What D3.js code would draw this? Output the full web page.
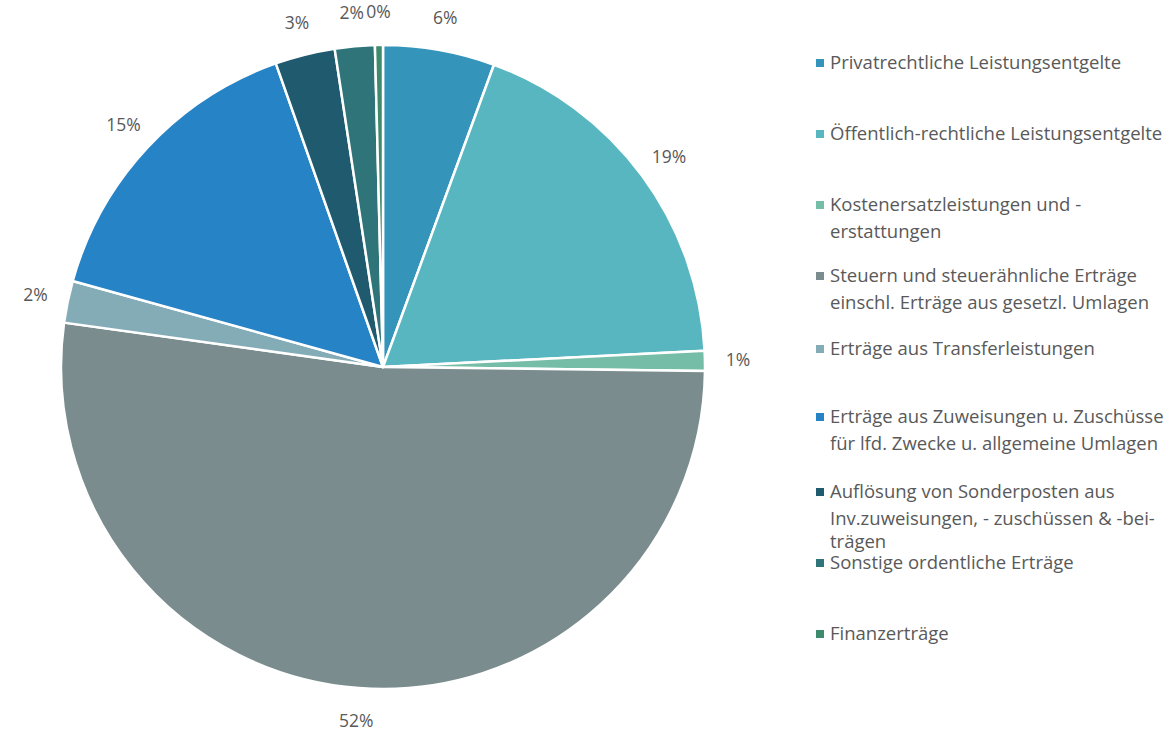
<!DOCTYPE html>
<html>
<head>
<meta charset="utf-8">
<script src="https://cdn.jsdelivr.net/npm/d3@7"></script>
<style>
  body { margin: 0; background: #fff; }
  svg text { font-family: "Open Sans", Lato, sans-serif; fill: #595959; }
</style>
</head>
<body>
<div id="chart"></div>
<script>
// Ertragsarten, Anteil in Prozent
var categories = [
  "Privatrechtliche Leistungsentgelte",
  "Öffentlich-rechtliche Leistungsentgelte",
  "Kostenersatzleistungen und - erstattungen",
  "Steuern und steuerähnliche Erträge einschl. Erträge aus gesetzl. Umlagen",
  "Erträge aus Transferleistungen",
  "Erträge aus Zuweisungen u. Zuschüsse für lfd. Zwecke u. allgemeine Umlagen",
  "Auflösung von Sonderposten aus Inv.zuweisungen, - zuschüssen & -bei- trägen",
  "Sonstige ordentliche Erträge",
  "Finanzerträge"
];
var values = [5.6, 18.6, 1.0, 52.0, 2.1, 15.3, 3.0, 2.0, 0.4];
var legendLines = [
  ["Privatrechtliche Leistungsentgelte"],
  ["Öffentlich-rechtliche Leistungsentgelte"],
  ["Kostenersatzleistungen und -", "erstattungen"],
  ["Steuern und steuerähnliche Erträge", "einschl. Erträge aus gesetzl. Umlagen"],
  ["Erträge aus Transferleistungen"],
  ["Erträge aus Zuweisungen u. Zuschüsse", "für lfd. Zwecke u. allgemeine Umlagen"],
  ["Auflösung von Sonderposten aus", "Inv.zuweisungen, - zuschüssen & -bei-", "trägen"],
  ["Sonstige ordentliche Erträge"],
  ["Finanzerträge"]
];
var colors = ["#3494ba", "#58b6c0", "#75bda7", "#7a8c8e", "#84acb6",
              "#2683c6", "#1f5a6e", "#2e7478", "#3e8a6c"];

var W = 1171, H = 731,
    cx = 383, cy = 367, r = 322;

var svg = d3.select("#chart").append("svg")
  .attr("width", W)
  .attr("height", H);

var pie = d3.pie().sort(null).value(function(d) { return d; });
var arcs = pie(values);

var arc = d3.arc().innerRadius(0).outerRadius(r);
var labelArc = d3.arc().innerRadius(r + 33).outerRadius(r + 33);

var g = svg.append("g").attr("transform", "translate(" + cx + "," + cy + ")");

g.selectAll("path.slice")
  .data(arcs)
  .enter().append("path")
  .attr("class", "slice")
  .attr("d", arc)
  .style("fill", function(d, i) { return colors[i]; })
  .style("stroke", "#fff")
  .style("stroke-width", 2.5)
  .style("stroke-linejoin", "round");

var total = d3.sum(values);
g.selectAll("text.lbl")
  .data(arcs)
  .enter().append("text")
  .attr("class", "lbl")
  .attr("transform", function(d) { return "translate(" + labelArc.centroid(d) + ")"; })
  .attr("text-anchor", "middle")
  .attr("dy", "0.35em")
  .style("font-size", "17.5px")
  .text(function(d) { return Math.round(d.value / total * 100) + "%"; });

// legend
var legendY = [63, 134, 205, 276, 349, 417, 492, 563, 634];
var legend = svg.append("g").attr("transform", "translate(816,0)");
var items = legend.selectAll("g.item")
  .data(categories)
  .enter().append("g")
  .attr("class", "item")
  .attr("transform", function(d, i) { return "translate(0," + legendY[i] + ")"; });

items.append("rect")
  .attr("x", 0).attr("y", -4)
  .attr("width", 8).attr("height", 8)
  .style("fill", function(d, i) { return colors[i]; });

items.each(function(d, i) {
  var t = d3.select(this).append("text")
    .attr("x", 14)
    .style("font-size", "18.5px");
  legendLines[i].forEach(function(line, j) {
    t.append("tspan").attr("x", 14)
      .attr("dy", j === 0 ? "0.35em" : (j === 2 ? "23px" : "27px"))
      .text(line);
  });
});
</script>
</body>
</html>
